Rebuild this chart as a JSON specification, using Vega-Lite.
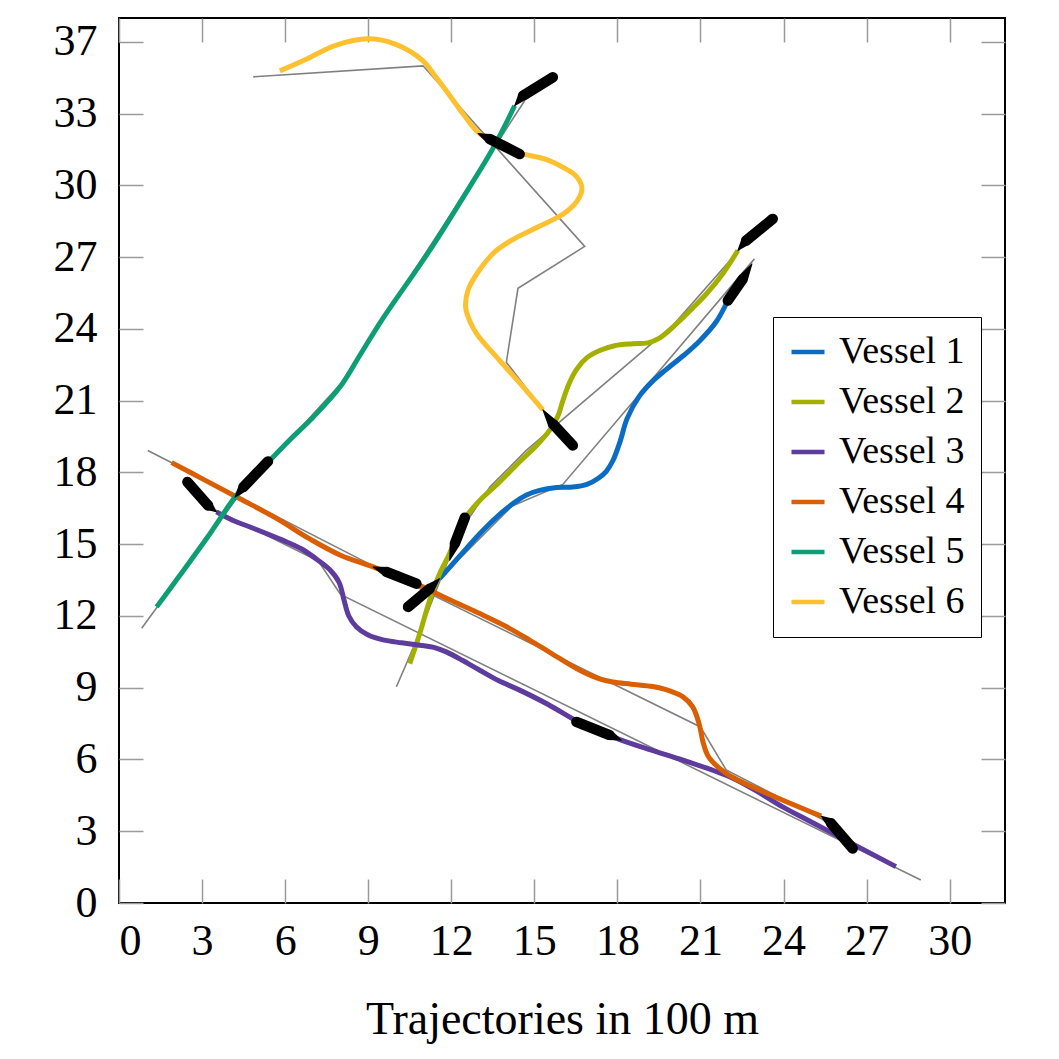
{
  "$schema": "https://vega.github.io/schema/vega-lite/v6.json",
  "autosize": {"type": "none"},
  "padding": {"left": 119, "top": 18, "right": 54, "bottom": 156},
  "width": 886,
  "height": 885,
  "background": "white",
  "config": {
    "view": {"stroke": "black", "strokeWidth": 2},
    "font": "Liberation Serif",
    "axis": {"labelFont": "Liberation Serif", "titleFont": "Liberation Serif", "labelColor": "black", "titleColor": "black", "titleFontWeight": "normal", "domain": false, "grid": false, "tickColor": "#9a9a9a", "tickWidth": 1.5, "tickSize": -24}
  },
  "datasets": {
    "traj": [
      {"vessel": "Vessel 1", "x": 11.58, "y": 13.56}, {"vessel": "Vessel 1", "x": 12.3, "y": 14.5}, {"vessel": "Vessel 1", "x": 13.03, "y": 15.44}, {"vessel": "Vessel 1", "x": 13.7, "y": 16.2}, {"vessel": "Vessel 1", "x": 14.23, "y": 16.7}, {"vessel": "Vessel 1", "x": 14.7, "y": 17.05}, {"vessel": "Vessel 1", "x": 15.19, "y": 17.25}, {"vessel": "Vessel 1", "x": 15.8, "y": 17.37}, {"vessel": "Vessel 1", "x": 16.39, "y": 17.39}, {"vessel": "Vessel 1", "x": 16.9, "y": 17.5}, {"vessel": "Vessel 1", "x": 17.3, "y": 17.75}, {"vessel": "Vessel 1", "x": 17.6, "y": 18.05}, {"vessel": "Vessel 1", "x": 17.84, "y": 18.5}, {"vessel": "Vessel 1", "x": 18.1, "y": 19.3}, {"vessel": "Vessel 1", "x": 18.35, "y": 20.25}, {"vessel": "Vessel 1", "x": 18.8, "y": 21.2}, {"vessel": "Vessel 1", "x": 19.3, "y": 21.85}, {"vessel": "Vessel 1", "x": 19.76, "y": 22.3}, {"vessel": "Vessel 1", "x": 20.4, "y": 22.9}, {"vessel": "Vessel 1", "x": 20.97, "y": 23.5}, {"vessel": "Vessel 1", "x": 21.57, "y": 24.3}, {"vessel": "Vessel 1", "x": 21.99, "y": 25.19},
      {"vessel": "Vessel 2", "x": 10.5, "y": 10.01}, {"vessel": "Vessel 2", "x": 10.86, "y": 11.26}, {"vessel": "Vessel 2", "x": 11.22, "y": 12.66}, {"vessel": "Vessel 2", "x": 11.58, "y": 13.77}, {"vessel": "Vessel 2", "x": 11.94, "y": 14.61}, {"vessel": "Vessel 2", "x": 12.25, "y": 15.5}, {"vessel": "Vessel 2", "x": 12.6, "y": 16.25}, {"vessel": "Vessel 2", "x": 13.03, "y": 16.83}, {"vessel": "Vessel 2", "x": 13.7, "y": 17.55}, {"vessel": "Vessel 2", "x": 14.47, "y": 18.45}, {"vessel": "Vessel 2", "x": 15.1, "y": 19.15}, {"vessel": "Vessel 2", "x": 15.55, "y": 19.76}, {"vessel": "Vessel 2", "x": 15.85, "y": 20.35}, {"vessel": "Vessel 2", "x": 16.03, "y": 21.0}, {"vessel": "Vessel 2", "x": 16.25, "y": 21.7}, {"vessel": "Vessel 2", "x": 16.52, "y": 22.3}, {"vessel": "Vessel 2", "x": 16.9, "y": 22.8}, {"vessel": "Vessel 2", "x": 17.36, "y": 23.1}, {"vessel": "Vessel 2", "x": 17.9, "y": 23.3}, {"vessel": "Vessel 2", "x": 18.56, "y": 23.38}, {"vessel": "Vessel 2", "x": 19.1, "y": 23.42}, {"vessel": "Vessel 2", "x": 19.52, "y": 23.62}, {"vessel": "Vessel 2", "x": 20.12, "y": 24.2}, {"vessel": "Vessel 2", "x": 20.7, "y": 24.85}, {"vessel": "Vessel 2", "x": 21.21, "y": 25.46}, {"vessel": "Vessel 2", "x": 21.8, "y": 26.3}, {"vessel": "Vessel 2", "x": 22.35, "y": 27.28},
      {"vessel": "Vessel 3", "x": 3.52, "y": 16.35}, {"vessel": "Vessel 3", "x": 4.1, "y": 16.0}, {"vessel": "Vessel 3", "x": 4.73, "y": 15.72}, {"vessel": "Vessel 3", "x": 5.93, "y": 15.16}, {"vessel": "Vessel 3", "x": 6.6, "y": 14.8}, {"vessel": "Vessel 3", "x": 7.13, "y": 14.38}, {"vessel": "Vessel 3", "x": 7.6, "y": 13.95}, {"vessel": "Vessel 3", "x": 7.95, "y": 13.4}, {"vessel": "Vessel 3", "x": 8.12, "y": 12.7}, {"vessel": "Vessel 3", "x": 8.3, "y": 12.0}, {"vessel": "Vessel 3", "x": 8.58, "y": 11.54}, {"vessel": "Vessel 3", "x": 9.0, "y": 11.2}, {"vessel": "Vessel 3", "x": 9.54, "y": 11.0}, {"vessel": "Vessel 3", "x": 10.2, "y": 10.88}, {"vessel": "Vessel 3", "x": 10.86, "y": 10.78}, {"vessel": "Vessel 3", "x": 11.4, "y": 10.68}, {"vessel": "Vessel 3", "x": 11.82, "y": 10.5}, {"vessel": "Vessel 3", "x": 12.4, "y": 10.15}, {"vessel": "Vessel 3", "x": 13.03, "y": 9.73}, {"vessel": "Vessel 3", "x": 13.7, "y": 9.3}, {"vessel": "Vessel 3", "x": 14.47, "y": 8.9}, {"vessel": "Vessel 3", "x": 15.5, "y": 8.3}, {"vessel": "Vessel 3", "x": 16.52, "y": 7.62}, {"vessel": "Vessel 3", "x": 17.3, "y": 7.2}, {"vessel": "Vessel 3", "x": 18.14, "y": 6.81}, {"vessel": "Vessel 3", "x": 19.2, "y": 6.4}, {"vessel": "Vessel 3", "x": 20.37, "y": 5.97}, {"vessel": "Vessel 3", "x": 22.05, "y": 5.28}, {"vessel": "Vessel 3", "x": 23.0, "y": 4.7}, {"vessel": "Vessel 3", "x": 23.97, "y": 4.02}, {"vessel": "Vessel 3", "x": 24.9, "y": 3.45}, {"vessel": "Vessel 3", "x": 25.78, "y": 2.91}, {"vessel": "Vessel 3", "x": 28.06, "y": 1.52},
      {"vessel": "Vessel 4", "x": 1.9, "y": 18.41}, {"vessel": "Vessel 4", "x": 3.1, "y": 17.68}, {"vessel": "Vessel 4", "x": 4.37, "y": 16.9}, {"vessel": "Vessel 4", "x": 5.69, "y": 16.08}, {"vessel": "Vessel 4", "x": 6.89, "y": 15.22}, {"vessel": "Vessel 4", "x": 7.98, "y": 14.55}, {"vessel": "Vessel 4", "x": 9.18, "y": 14.05}, {"vessel": "Vessel 4", "x": 10.0, "y": 13.7}, {"vessel": "Vessel 4", "x": 10.74, "y": 13.35}, {"vessel": "Vessel 4", "x": 11.9, "y": 12.7}, {"vessel": "Vessel 4", "x": 13.03, "y": 12.1}, {"vessel": "Vessel 4", "x": 14.0, "y": 11.55}, {"vessel": "Vessel 4", "x": 14.83, "y": 10.99}, {"vessel": "Vessel 4", "x": 15.6, "y": 10.45}, {"vessel": "Vessel 4", "x": 16.64, "y": 9.73}, {"vessel": "Vessel 4", "x": 17.36, "y": 9.37}, {"vessel": "Vessel 4", "x": 17.84, "y": 9.24}, {"vessel": "Vessel 4", "x": 18.5, "y": 9.15}, {"vessel": "Vessel 4", "x": 19.28, "y": 9.05}, {"vessel": "Vessel 4", "x": 19.76, "y": 8.92}, {"vessel": "Vessel 4", "x": 20.37, "y": 8.62}, {"vessel": "Vessel 4", "x": 20.72, "y": 8.2}, {"vessel": "Vessel 4", "x": 20.95, "y": 7.5}, {"vessel": "Vessel 4", "x": 21.1, "y": 6.7}, {"vessel": "Vessel 4", "x": 21.3, "y": 6.1}, {"vessel": "Vessel 4", "x": 21.93, "y": 5.42}, {"vessel": "Vessel 4", "x": 23.37, "y": 4.6}, {"vessel": "Vessel 4", "x": 25.36, "y": 3.63},
      {"vessel": "Vessel 5", "x": 1.36, "y": 12.38}, {"vessel": "Vessel 5", "x": 2.2, "y": 13.7}, {"vessel": "Vessel 5", "x": 3.2, "y": 15.3}, {"vessel": "Vessel 5", "x": 4.19, "y": 16.97}, {"vessel": "Vessel 5", "x": 4.8, "y": 17.75}, {"vessel": "Vessel 5", "x": 5.4, "y": 18.45}, {"vessel": "Vessel 5", "x": 6.2, "y": 19.4}, {"vessel": "Vessel 5", "x": 7.0, "y": 20.3}, {"vessel": "Vessel 5", "x": 7.98, "y": 21.57}, {"vessel": "Vessel 5", "x": 8.7, "y": 22.9}, {"vessel": "Vessel 5", "x": 9.48, "y": 24.35}, {"vessel": "Vessel 5", "x": 11.22, "y": 27.28}, {"vessel": "Vessel 5", "x": 12.43, "y": 29.5}, {"vessel": "Vessel 5", "x": 13.39, "y": 31.31}, {"vessel": "Vessel 5", "x": 13.85, "y": 32.3}, {"vessel": "Vessel 5", "x": 14.29, "y": 33.33},
      {"vessel": "Vessel 6", "x": 5.81, "y": 34.79}, {"vessel": "Vessel 6", "x": 6.8, "y": 35.3}, {"vessel": "Vessel 6", "x": 7.8, "y": 35.85}, {"vessel": "Vessel 6", "x": 9.0, "y": 36.13}, {"vessel": "Vessel 6", "x": 10.0, "y": 35.9}, {"vessel": "Vessel 6", "x": 10.98, "y": 35.21}, {"vessel": "Vessel 6", "x": 11.4, "y": 34.6}, {"vessel": "Vessel 6", "x": 11.82, "y": 33.96}, {"vessel": "Vessel 6", "x": 12.43, "y": 32.99}, {"vessel": "Vessel 6", "x": 12.97, "y": 32.22}, {"vessel": "Vessel 6", "x": 13.7, "y": 31.7}, {"vessel": "Vessel 6", "x": 14.47, "y": 31.35}, {"vessel": "Vessel 6", "x": 15.4, "y": 31.1}, {"vessel": "Vessel 6", "x": 16.03, "y": 30.76}, {"vessel": "Vessel 6", "x": 16.5, "y": 30.4}, {"vessel": "Vessel 6", "x": 16.72, "y": 29.9}, {"vessel": "Vessel 6", "x": 16.55, "y": 29.35}, {"vessel": "Vessel 6", "x": 16.1, "y": 28.85}, {"vessel": "Vessel 6", "x": 15.2, "y": 28.3}, {"vessel": "Vessel 6", "x": 14.4, "y": 27.85}, {"vessel": "Vessel 6", "x": 13.6, "y": 27.25}, {"vessel": "Vessel 6", "x": 12.95, "y": 26.35}, {"vessel": "Vessel 6", "x": 12.6, "y": 25.6}, {"vessel": "Vessel 6", "x": 12.52, "y": 24.9}, {"vessel": "Vessel 6", "x": 12.7, "y": 24.25}, {"vessel": "Vessel 6", "x": 12.95, "y": 23.75}, {"vessel": "Vessel 6", "x": 13.75, "y": 22.68}, {"vessel": "Vessel 6", "x": 14.5, "y": 21.7}, {"vessel": "Vessel 6", "x": 15.31, "y": 20.62}
    ],
    "ref": [
      {"vessel": "Vessel 1", "x": 11.58, "y": 13.56}, {"vessel": "Vessel 1", "x": 14.2, "y": 16.6}, {"vessel": "Vessel 1", "x": 16.03, "y": 17.5}, {"vessel": "Vessel 1", "x": 22.95, "y": 26.93},
      {"vessel": "Vessel 2", "x": 10.02, "y": 9.04}, {"vessel": "Vessel 2", "x": 10.86, "y": 11.3}, {"vessel": "Vessel 2", "x": 11.6, "y": 13.5}, {"vessel": "Vessel 2", "x": 12.3, "y": 15.5}, {"vessel": "Vessel 2", "x": 13.4, "y": 17.4}, {"vessel": "Vessel 2", "x": 14.71, "y": 18.92}, {"vessel": "Vessel 2", "x": 20.0, "y": 24.14}, {"vessel": "Vessel 2", "x": 22.4, "y": 27.3},
      {"vessel": "Vessel 3", "x": 3.5, "y": 16.42}, {"vessel": "Vessel 3", "x": 7.2, "y": 14.3}, {"vessel": "Vessel 3", "x": 8.0, "y": 12.9}, {"vessel": "Vessel 3", "x": 28.96, "y": 0.96},
      {"vessel": "Vessel 4", "x": 1.04, "y": 18.92}, {"vessel": "Vessel 4", "x": 9.0, "y": 14.2}, {"vessel": "Vessel 4", "x": 21.0, "y": 7.36}, {"vessel": "Vessel 4", "x": 21.93, "y": 5.56}, {"vessel": "Vessel 4", "x": 25.4, "y": 3.5}, {"vessel": "Vessel 4", "x": 26.0, "y": 3.0},
      {"vessel": "Vessel 5", "x": 0.82, "y": 11.49}, {"vessel": "Vessel 5", "x": 4.3, "y": 17.0}, {"vessel": "Vessel 5", "x": 8.0, "y": 21.7}, {"vessel": "Vessel 5", "x": 14.65, "y": 33.54},
      {"vessel": "Vessel 6", "x": 4.85, "y": 34.54}, {"vessel": "Vessel 6", "x": 10.98, "y": 35.0}, {"vessel": "Vessel 6", "x": 16.82, "y": 27.45}, {"vessel": "Vessel 6", "x": 14.41, "y": 25.7}, {"vessel": "Vessel 6", "x": 13.99, "y": 22.61}, {"vessel": "Vessel 6", "x": 15.31, "y": 20.62}
    ],
    "ships": [
      {"ship": "S1", "x": 5.38, "y": 18.46, "part": "hull"}, {"ship": "S1", "x": 4.49, "y": 17.39, "part": "hull"}, {"ship": "S1", "x": 4.19, "y": 16.97, "part": "bow"},
      {"ship": "S2", "x": 15.67, "y": 34.52, "part": "hull"}, {"ship": "S2", "x": 14.59, "y": 33.75, "part": "hull"}, {"ship": "S2", "x": 14.29, "y": 33.33, "part": "bow"},
      {"ship": "S3", "x": 14.47, "y": 31.31, "part": "hull"}, {"ship": "S3", "x": 13.39, "y": 31.94, "part": "hull"}, {"ship": "S3", "x": 12.97, "y": 32.17, "part": "bow"},
      {"ship": "S4", "x": 16.39, "y": 19.13, "part": "hull"}, {"ship": "S4", "x": 15.67, "y": 20.03, "part": "hull"}, {"ship": "S4", "x": 15.31, "y": 20.62, "part": "bow"},
      {"ship": "S5", "x": 23.61, "y": 28.6, "part": "hull"}, {"ship": "S5", "x": 22.65, "y": 27.69, "part": "hull"}, {"ship": "S5", "x": 22.35, "y": 27.28, "part": "bow"},
      {"ship": "S6", "x": 21.99, "y": 25.19, "part": "hull"}, {"ship": "S6", "x": 22.53, "y": 26.09, "part": "hull"}, {"ship": "S6", "x": 22.86, "y": 26.72, "part": "bow"},
      {"ship": "S7", "x": 12.49, "y": 16.11, "part": "hull"}, {"ship": "S7", "x": 12.13, "y": 15.02, "part": "hull"}, {"ship": "S7", "x": 11.94, "y": 14.33, "part": "bow"},
      {"ship": "S8", "x": 10.44, "y": 12.38, "part": "hull"}, {"ship": "S8", "x": 11.22, "y": 13.14, "part": "hull"}, {"ship": "S8", "x": 11.58, "y": 13.56, "part": "bow"},
      {"ship": "S9", "x": 10.74, "y": 13.35, "part": "hull"}, {"ship": "S9", "x": 9.66, "y": 13.84, "part": "hull"}, {"ship": "S9", "x": 9.18, "y": 14.05, "part": "bow"},
      {"ship": "S10", "x": 2.47, "y": 17.6, "part": "hull"}, {"ship": "S10", "x": 3.22, "y": 16.62, "part": "hull"}, {"ship": "S10", "x": 3.52, "y": 16.35, "part": "bow"},
      {"ship": "S11", "x": 16.52, "y": 7.57, "part": "hull"}, {"ship": "S11", "x": 17.72, "y": 7.02, "part": "hull"}, {"ship": "S11", "x": 18.14, "y": 6.81, "part": "bow"},
      {"ship": "S12", "x": 26.5, "y": 2.28, "part": "hull"}, {"ship": "S12", "x": 25.72, "y": 3.33, "part": "hull"}, {"ship": "S12", "x": 25.36, "y": 3.63, "part": "bow"}
    ]
  },
  "layer": [
    {
      "data": {"name": "ref"},
      "mark": {"type": "line", "color": "#808080", "strokeWidth": 1.6},
      "encoding": {
        "x": {"field": "x", "type": "quantitative", "scale": {"domain": [0, 32], "nice": false, "zero": false},
              "axis": {"orient": "bottom", "values": [0, 3, 6, 9, 12, 15, 18, 21, 24, 27, 30], "labelFontSize": 44, "labelPadding": 40, "title": "Trajectories in 100 m", "titleFontSize": 46, "titlePadding": 34}},
        "y": {"field": "y", "type": "quantitative", "scale": {"domain": [0, 37], "nice": false, "zero": false},
              "axis": {"orient": "left", "values": [0, 3, 6, 9, 12, 15, 18, 21, 24, 27, 30, 33, 36], "labelExpr": "datum.value == 36 ? '37' : datum.label", "labelFontSize": 44, "labelPadding": 46, "title": null}},
        "detail": {"field": "vessel", "type": "nominal"},
        "order": {"value": null}
      }
    },
    {
      "data": {"name": "traj"},
      "mark": {"type": "line", "strokeWidth": 5, "interpolate": "catmull-rom"},
      "encoding": {
        "x": {"field": "x", "type": "quantitative", "scale": {"domain": [0, 32], "nice": false, "zero": false},
              "axis": {"orient": "top", "values": [0, 3, 6, 9, 12, 15, 18, 21, 24, 27, 30], "labels": false, "title": null}},
        "y": {"field": "y", "type": "quantitative", "scale": {"domain": [0, 37], "nice": false, "zero": false},
              "axis": {"orient": "right", "values": [0, 3, 6, 9, 12, 15, 18, 21, 24, 27, 30, 33, 36], "labels": false, "title": null}},
        "color": {"field": "vessel", "type": "nominal",
                  "scale": {"domain": ["Vessel 1", "Vessel 2", "Vessel 3", "Vessel 4", "Vessel 5", "Vessel 6"], "range": ["#0A6CC2", "#A3B000", "#5E3C9E", "#D95F02", "#0E9E74", "#FDC02F"]},
                  "legend": {"orient": "none", "legendX": 654, "legendY": 299, "title": null, "strokeColor": "black", "fillColor": "white", "padding": 16, "symbolType": "stroke", "symbolSize": 1089, "symbolStrokeWidth": 4.5, "labelFontSize": 38, "labelFont": "Liberation Serif", "labelColor": "black", "labelOffset": 12, "rowPadding": 12}},
        "order": {"value": null}
      }
    },
    {
      "data": {"name": "ships"},
      "mark": {"type": "trail", "color": "black"},
      "encoding": {
        "x": {"field": "x", "type": "quantitative", "scale": {"domain": [0, 32], "nice": false, "zero": false}, "axis": null},
        "y": {"field": "y", "type": "quantitative", "scale": {"domain": [0, 37], "nice": false, "zero": false}, "axis": null},
        "detail": {"field": "ship", "type": "nominal"},
        "size": {"field": "part", "type": "nominal", "scale": {"domain": ["hull", "bow"], "range": [10.5, 1]}, "legend": null},
        "order": {"value": null}
      }
    }
  ],
  "resolve": {"axis": {"x": "independent", "y": "independent"}}
}
